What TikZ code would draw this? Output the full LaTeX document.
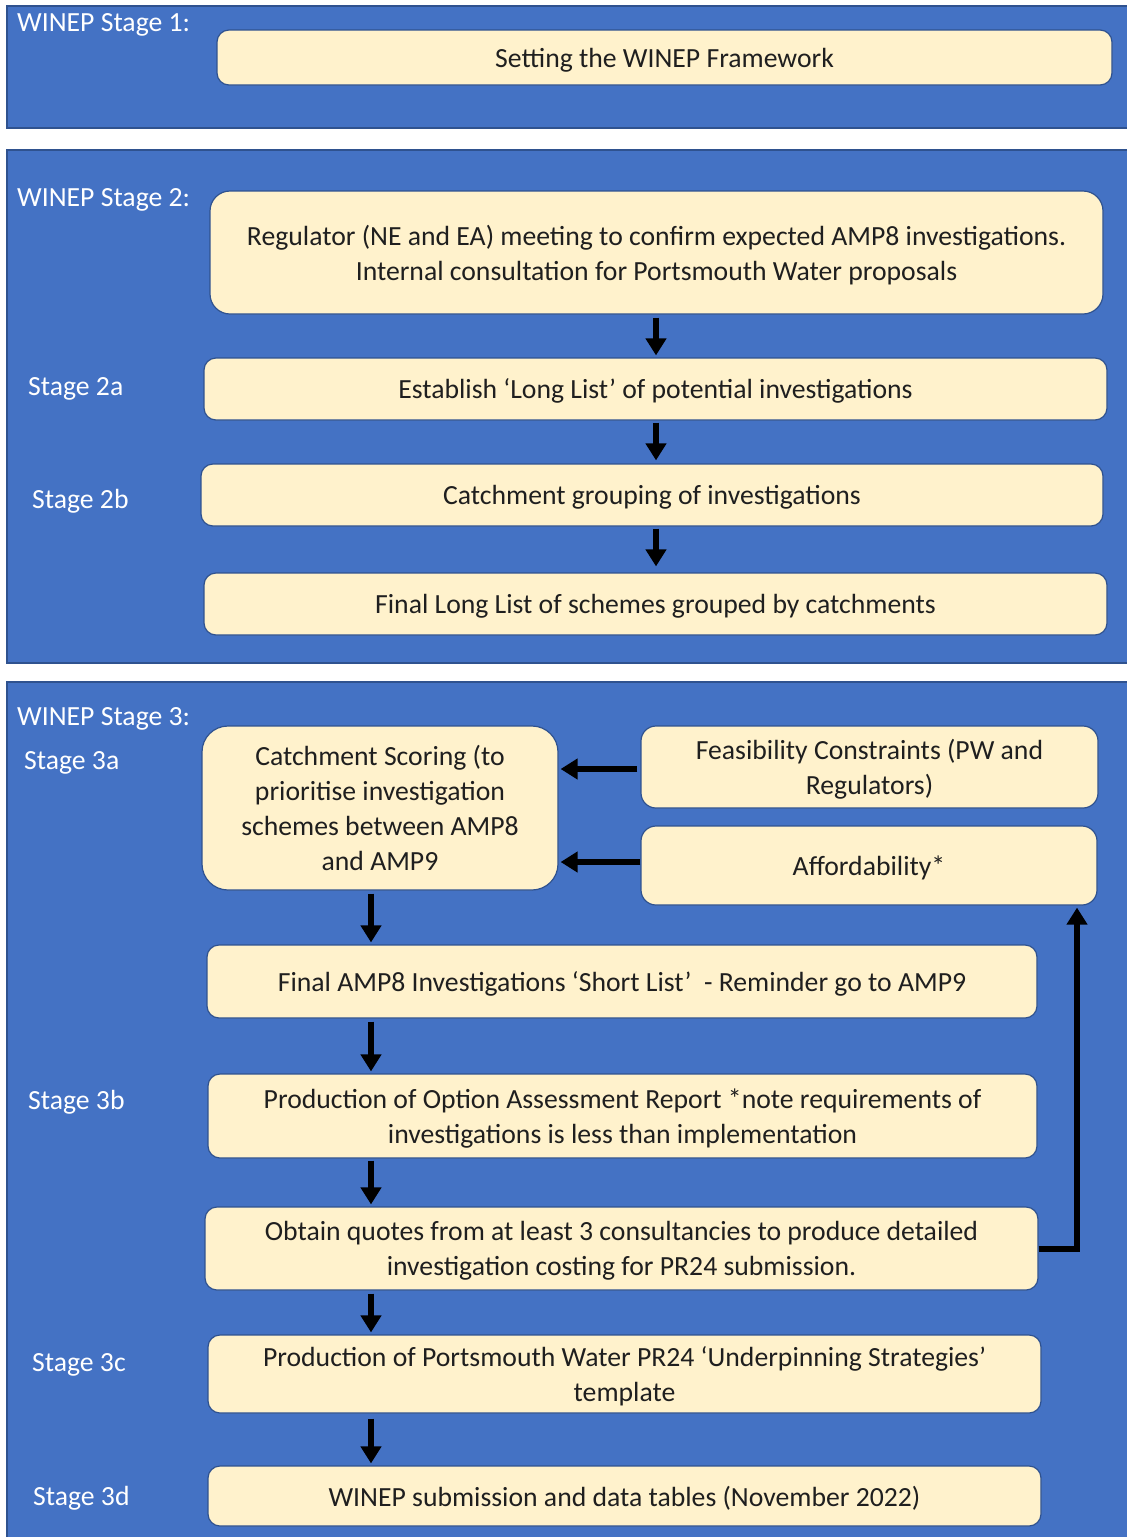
\documentclass[tikz,border=0pt]{standalone}
\usepackage{fontspec}
\setmainfont{Carlito}
\usetikzlibrary{arrows.meta}
\definecolor{panelblue}{HTML}{4472C4}
\definecolor{paneledge}{HTML}{2F528F}
\definecolor{boxfill}{HTML}{FFF2CC}
\definecolor{txt}{HTML}{1F1F1F}
\begin{document}
\begin{tikzpicture}[x=1pt,y=-1pt,
  panel/.style={fill=panelblue,draw=paneledge,line width=1.5pt},
  plabel/.style={text=white,anchor=west,inner sep=0pt,font=\fontsize{27.7}{35}\selectfont},
  box/.style={fill=boxfill,draw=paneledge,line width=1.2pt,rounded corners=12pt,text=txt,
    align=center,inner sep=0pt,text depth=0pt,font=\fontsize{27.7}{35}\selectfont},
  arr/.style={line width=6pt,-{Triangle[width=20pt,length=17pt]}}
]
\useasboundingbox (0,0) rectangle (1127,1537);
\begin{scope}
\clip (0,0) rectangle (1127,1537);
\draw[panel] (7,6) rectangle (1140,128);
\draw[panel] (7,150) rectangle (1140,663);
\draw[panel] (7,682) rectangle (1140,1550);
\end{scope}
% panel labels
\node[plabel] (l1) at (17,25) {WINEP Stage 1:};
\node[plabel] (l2) at (17,200) {WINEP Stage 2:};
\node[plabel] (l2a) at (28,389) {Stage 2a};
\node[plabel] (l2b) at (32,501) {Stage 2b};
\node[plabel] (l3) at (17,719) {WINEP Stage 3:};
\node[plabel] (l3a) at (24,763) {Stage 3a};
\node[plabel] (l3b) at (28,1102) {Stage 3b};
\node[plabel] (l3c) at (32,1365) {Stage 3c};
\node[plabel] (l3d) at (33,1498) {Stage 3d};
% boxes
\node[box,minimum width=895pt,minimum height=55pt] (b1) at (664.5,57.5) {Setting the WINEP Framework};
\node[box,rounded corners=20pt,minimum width=893pt,minimum height=123pt] (b2) at (656.5,252.5)
  {Regulator (NE and EA) meeting to confirm expected AMP8 investigations.\\Internal consultation for Portsmouth Water proposals};
\node[box,minimum width=903pt,minimum height=62pt] (b3) at (655.5,389) {Establish ‘Long List’ of potential investigations};
\node[box,minimum width=902pt,minimum height=62pt] (b4) at (652,495) {Catchment grouping of investigations};
\node[box,minimum width=903pt,minimum height=62pt] (b5) at (655.5,604) {Final Long List of schemes grouped by catchments};
\node[box,rounded corners=26pt,minimum width=356pt,minimum height=164pt] (b6) at (380,808)
  {Catchment Scoring (to\\prioritise investigation\\schemes between AMP8\\and AMP9};
\node[box,rounded corners=15pt,minimum width=457pt,minimum height=82pt] (b7) at (869.5,767)
  {Feasibility Constraints (PW and\\Regulators)};
\node[box,rounded corners=15pt,minimum width=456pt,minimum height=79pt] (b8) at (869,865.5) {Affordability*};
\node[box,minimum width=830pt,minimum height=73pt] (b9) at (622,981.5)
  {Final AMP8 Investigations ‘Short List’\ \ - Reminder go to AMP9};
\node[box,minimum width=829pt,minimum height=84pt] (b10) at (622.5,1116)
  {Production of Option Assessment Report *note requirements of\\investigations is less than implementation};
\node[box,minimum width=833pt,minimum height=83pt] (b11) at (621.5,1248.5)
  {Obtain quotes from at least 3 consultancies to produce detailed\\investigation costing for PR24 submission.};
\node[box,minimum width=833pt,minimum height=78pt] (b12) at (624.5,1374)
  {Production of Portsmouth Water PR24 ‘Underpinning Strategies’\\template};
\node[box,minimum width=833pt,minimum height=60pt] (b13) at (624.5,1496)
  {WINEP submission and data tables (November 2022)};
% arrows stage 2
\coordinate (cx2) at (656,0);
\coordinate (cx3) at (371,0);
\coordinate (fb) at (1077,0);
\draw[arr,shorten <=3pt,shorten >=2pt] (b2.south -| cx2) -- (b3.north -| cx2);
\draw[arr,shorten <=2pt,shorten >=3pt] (b3.south -| cx2) -- (b4.north -| cx2);
\draw[arr,shorten <=2pt,shorten >=6pt] (b4.south -| cx2) -- (b5.north -| cx2);
% stage 3
\draw[arr,shorten <=3pt,shorten >=2pt] (b7.west |- 0,769) -- (b6.east |- 0,769);
\draw[arr,shorten <=0pt,shorten >=2pt] (b8.west |- 0,862) -- (b6.east |- 0,862);
\draw[arr,shorten <=3pt,shorten >=2pt] (b6.south -| cx3) -- (b9.north -| cx3);
\draw[arr,shorten <=3pt,shorten >=2pt] (b9.south -| cx3) -- (b10.north -| cx3);
\draw[arr,shorten <=2pt,shorten >=2pt] (b10.south -| cx3) -- (b11.north -| cx3);
\draw[arr,shorten <=3pt,shorten >=2pt] (b11.south -| cx3) -- (b12.north -| cx3);
\draw[arr,shorten <=5pt,shorten >=2pt] (b12.south -| cx3) -- (b13.north -| cx3);
\draw[arr,shorten >=2pt] (b11.east |- 0,1249) -- (fb |- 0,1249) -- (fb |- b8.south);
\end{tikzpicture}
\end{document}
